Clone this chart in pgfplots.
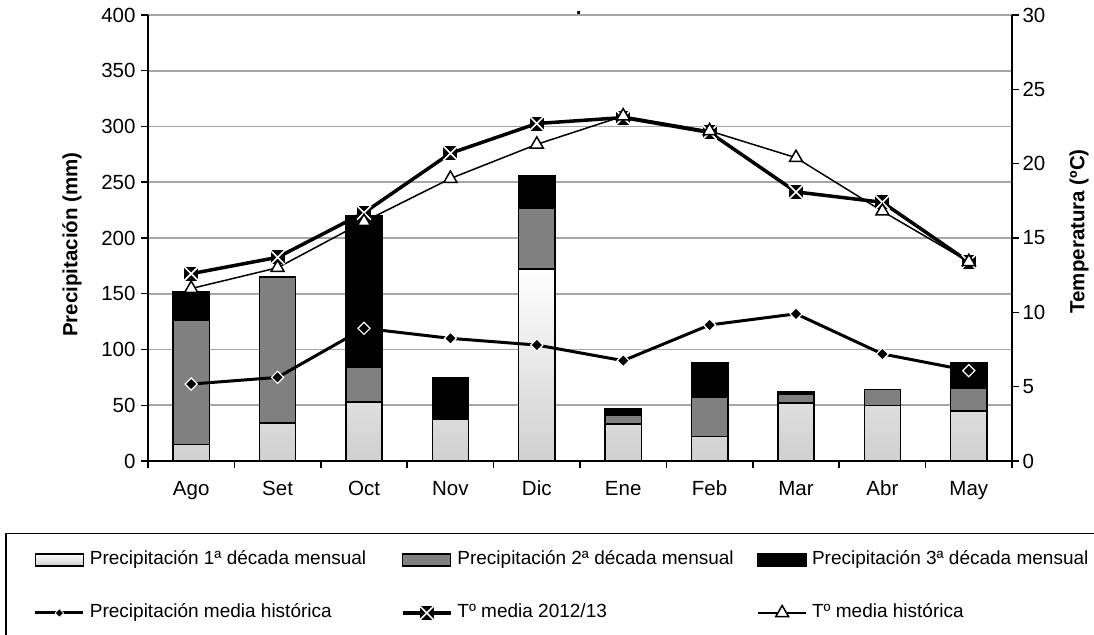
\documentclass[border=0pt]{standalone}
\usepackage{pgfplots}
\pgfplotsset{compat=1.18}
\usepackage{fontspec}
\setmainfont{Liberation Sans}
\definecolor{gridgray}{HTML}{A6A6A6}
\definecolor{bargray}{HTML}{808080}
\definecolor{lightbot}{HTML}{D0D0D0}

\pgfdeclareplotmark{sqx}{%
  \pgfpathrectangle{\pgfqpoint{-\pgfplotmarksize}{-\pgfplotmarksize}}{\pgfqpoint{2\pgfplotmarksize}{2\pgfplotmarksize}}%
  \pgfsetfillcolor{black}\pgfusepathqfill
  \pgfsetstrokecolor{white}\pgfsetlinewidth{1.6pt}%
  \pgfpathmoveto{\pgfqpoint{-\pgfplotmarksize}{-\pgfplotmarksize}}%
  \pgfpathlineto{\pgfqpoint{\pgfplotmarksize}{\pgfplotmarksize}}%
  \pgfpathmoveto{\pgfqpoint{-\pgfplotmarksize}{\pgfplotmarksize}}%
  \pgfpathlineto{\pgfqpoint{\pgfplotmarksize}{-\pgfplotmarksize}}%
  \pgfusepathqstroke
}

\pgfplotsset{
  common/.style={
    at={(0,0)}, anchor=south west, scale only axis,
    width=864pt, height=446pt,
    xmin=-0.5, xmax=9.5,
    /pgf/number format/assume math mode=true,
    ticklabel style={font=\fontsize{20.5}{23}\selectfont},
    label style={font=\fontsize{20.5}{23}\selectfont\bfseries},
    tick align=outside,
    tick style={black, line width=1.5pt},
    major tick length=7pt, minor tick length=7pt,
    axis line style={line width=2pt},
  },
  barleg/.style={legend image code/.code={%
      \draw[##1, line width=1.5pt] (0pt,-6pt) rectangle (48pt,6pt);
      \path (53pt,0pt);}},
  lineleg/.style={legend image code/.code={%
      \draw[##1, mark repeat=2, mark phase=2] plot coordinates {(0pt,0pt) (24pt,0pt) (48pt,0pt)};
      \path (53pt,0pt);}},
}

\begin{document}
\begin{tikzpicture}
\useasboundingbox (-148pt,-173pt) rectangle (946pt,461pt);

% ---- axis 1: stacked bars, left axis ----
\begin{axis}[common,
  clip=false,
  ymin=0, ymax=400,
  ybar stacked, bar width=0.42,
  xtick={0,...,9},
  xticklabels={Ago,Set,Oct,Nov,Dic,Ene,Feb,Mar,Abr,May},
  xticklabel style={yshift=-9pt, text height=15pt, text depth=4pt},
  minor xtick={-0.5,0.5,...,9.5},
  major x tick style={draw=none},
  ytick={0,50,...,400},
  yticklabel style={xshift=-2pt},
  axis y line*=left, axis x line*=bottom,
  ymajorgrids, grid style={gridgray, line width=1.8pt},
  ylabel={Precipitación (mm)},
  ylabel style={at={(axis description cs:-0.088,0.485)}, anchor=center},
]
\addplot[draw=black, line width=1.5pt, top color=white, bottom color=lightbot]
  coordinates {(0,15) (1,34) (2,53) (3,37) (4,172) (5,33) (6,22) (7,52) (8,50) (9,45)};
\addplot[draw=black, line width=1.5pt, fill=bargray]
  coordinates {(0,111) (1,131) (2,31) (3,0) (4,55) (5,8) (6,35) (7,8) (8,14) (9,20)};
\addplot[draw=black, line width=1.5pt, fill=black]
  coordinates {(0,26) (1,0) (2,136) (3,38) (4,29) (5,6) (6,31) (7,2) (8,0) (9,23)};
\node[anchor=base, inner sep=0pt, text height=3pt, text depth=0pt, font=\fontsize{20.5}{23}\selectfont\bfseries] at (rel axis cs:0.4985,1) {.};
\end{axis}

% ---- axis 2: historical precipitation line ----
\begin{axis}[common, ymin=0, ymax=400, hide axis]
\addplot[black, line width=3pt, mark=square*, mark size=4.3pt,
  mark options={rotate=45, fill=black, draw=white, line width=1.2pt}]
  coordinates {(0,69) (1,75) (2,119) (3,110) (4,104) (5,90) (6,122) (7,132) (8,96) (9,81)};
\end{axis}

% ---- axis 3: temperatures, right axis, legend ----
\begin{axis}[common,
  ymin=0, ymax=30,
  ytick={0,5,...,30},
  axis y line*=right, axis x line=none,
  ylabel={Temperatura (ºC)},
  ylabel style={at={(axis description cs:1.0775,0.515)}, anchor=center, rotate=0},
  legend columns=3,
  legend cell align=left,
  legend style={at={(axis description cs:-0.1655,-0.1605)}, anchor=north west,
    draw=black, line width=1.8pt,
    inner xsep=28pt, inner ysep=17pt,
    row sep=34pt, column sep=0pt,
    /tikz/every odd column/.style={column sep=0pt},
    /tikz/every even column/.style={column sep=0pt},
    nodes={inner sep=0pt, text height=14pt, text depth=5pt, font=\fontsize{19}{22}\selectfont}},
]
\addlegendimage{barleg, draw=black, top color=white, bottom color=lightbot}
\addlegendentry{\makebox[311pt][l]{Precipitación 1ª década mensual}}
\addlegendimage{barleg, draw=black, fill=bargray}
\addlegendentry{\makebox[300pt][l]{Precipitación 2ª década mensual}}
\addlegendimage{barleg, draw=black, fill=black}
\addlegendentry{\makebox[300pt][l]{Precipitación 3ª década mensual}}
\addlegendimage{lineleg, black, line width=3pt, mark=square*, mark size=3pt,
  mark options={rotate=45, fill=black, draw=white, line width=0.8pt}}
\addlegendentry{\makebox[311pt][l]{Precipitación media histórica}}

\addplot[lineleg, black, line width=3.5pt, mark=sqx, mark size=7pt]
  coordinates {(0,12.6) (1,13.7) (2,16.7) (3,20.7) (4,22.7) (5,23.1) (6,22.1) (7,18.1) (8,17.4) (9,13.4)};
\addlegendentry{\makebox[300pt][l]{Tº media 2012/13}}
\addplot[lineleg, black, line width=1.5pt, mark=triangle*, mark size=7.5pt,
  mark options={fill=white, draw=black, line width=1.5pt}]
  coordinates {(0,11.6) (1,13.0) (2,16.1) (3,19.0) (4,21.3) (5,23.2) (6,22.2) (7,20.4) (8,16.8) (9,13.4)};
\addlegendentry{\makebox[300pt][l]{Tº media histórica}}
\end{axis}
\end{tikzpicture}
\end{document}
